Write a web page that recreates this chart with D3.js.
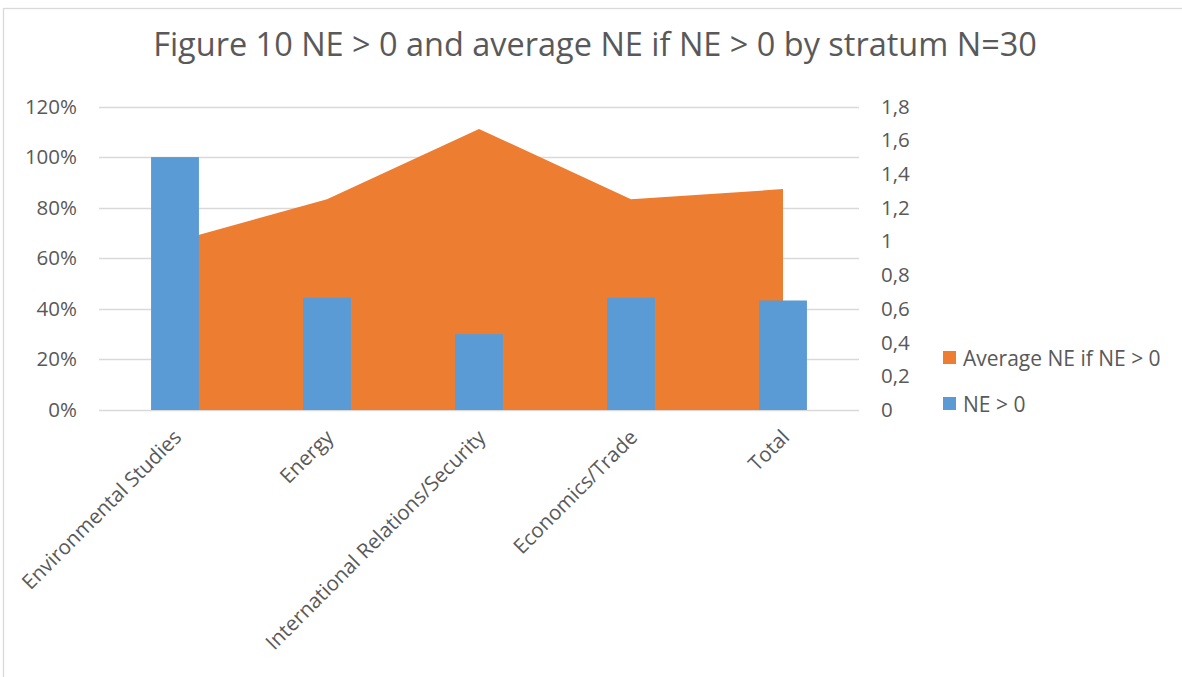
<!DOCTYPE html>
<html>
<head>
<meta charset="utf-8">
<script src="https://cdn.jsdelivr.net/npm/d3@7"></script>
<style>
  html, body { margin: 0; padding: 0; background: #fff; }
  svg { display: block; }
  text { font-family: "Open Sans", sans-serif; fill: #595959; }
</style>
</head>
<body>
<svg id="chart" width="1182" height="677"></svg>
<script>
const categories = ["Environmental Studies", "Energy", "International Relations/Security", "Economics/Trade", "Total"];
const shareNE = [1.00, 0.444, 0.30, 0.444, 0.433];          // NE > 0 (left axis, %)
const avgNE = [1.00, 1.25, 1.667, 1.25, 1.31];               // Average NE if NE > 0 (right axis)
const leftTicks = [0, 0.2, 0.4, 0.6, 0.8, 1.0, 1.2];
const rightTicks = [0, 0.2, 0.4, 0.6, 0.8, 1.0, 1.2, 1.4, 1.6, 1.8];
const titleText = "Figure 10 NE > 0 and average NE if NE > 0 by stratum N=30";
const legendItems = [
  { label: "Average NE if NE > 0", color: "#ED7D31" },
  { label: "NE > 0", color: "#5B9BD5" }
];

const svg = d3.select("#chart");
const W = 1182, H = 677;
const plot = { left: 99, right: 859, top: 106.5, bottom: 410 };

// outer border
svg.append("rect")
  .attr("x", 3.5).attr("y", 8.5)
  .attr("width", W + 10).attr("height", H + 10)
  .attr("fill", "none").attr("stroke", "#D9D9D9").attr("stroke-width", 1.3);

const x = d3.scaleBand().domain(categories).range([plot.left, plot.right]).padding(0);
const yL = d3.scaleLinear().domain([0, 1.2]).range([plot.bottom, plot.top]);
const yR = d3.scaleLinear().domain([0, 1.8]).range([plot.bottom, plot.top]);
const cx = c => x(c) + x.bandwidth() / 2;

// gridlines
svg.append("g").selectAll("line").data(leftTicks).join("line")
  .attr("x1", plot.left).attr("x2", plot.right)
  .attr("y1", d => Math.round(yL(d)) + 0.5).attr("y2", d => Math.round(yL(d)) + 0.5)
  .attr("stroke", "#D9D9D9").attr("stroke-width", 1.3);

// area
const area = d3.area()
  .x((d, i) => cx(categories[i]))
  .y0(yR(0))
  .y1(d => yR(d));
svg.append("path").datum(avgNE).attr("d", area).attr("fill", "#ED7D31");

// bars
const barW = x.bandwidth() * 0.315;
svg.append("g").selectAll("rect").data(shareNE).join("rect")
  .attr("x", (d, i) => cx(categories[i]) - barW / 2)
  .attr("width", barW)
  .attr("y", d => yL(d))
  .attr("height", d => yL(0) - yL(d))
  .attr("fill", "#5B9BD5");

// left axis
const leftAxis = d3.axisLeft(yL).tickValues(leftTicks).tickFormat(d3.format(".0%")).tickSize(0).tickPadding(0);
const gL = svg.append("g").attr("transform", "translate(77,0)").call(leftAxis);
gL.select(".domain").remove();
gL.selectAll("text").attr("font-size", 20.5).attr("fill", "#595959")
  .style("font-family", "'Open Sans', sans-serif");

// right axis
const fmtR = d => d3.format(".1~f")(d).replace(".", ",");
const rightAxis = d3.axisRight(yR).tickValues(rightTicks).tickFormat(fmtR).tickSize(0).tickPadding(0);
const gR = svg.append("g").attr("transform", "translate(881,0)").call(rightAxis);
gR.select(".domain").remove();
gR.selectAll("text").attr("font-size", 20.5).attr("fill", "#595959")
  .style("font-family", "'Open Sans', sans-serif");

// category labels
svg.append("g").selectAll("text").data(categories).join("text")
  .attr("transform", d => `translate(${cx(d) + 2},${433}) rotate(-45)`)
  .attr("text-anchor", "end")
  .attr("dominant-baseline", "central")
  .attr("font-size", 20.5)
  .text(d => d);

// title
const title = svg.append("text")
  .attr("x", 595).attr("y", 56)
  .attr("text-anchor", "middle")
  .attr("font-size", 28)
  .text(titleText);
const tl = title.node().getComputedTextLength();
title.attr("font-size", 28 * 884 / tl);

// legend
const lg = svg.append("g").selectAll("g").data(legendItems).join("g")
  .attr("transform", (d, i) => `translate(943,${351 + i * 46})`);
lg.append("rect").attr("width", 13).attr("height", 13).attr("fill", d => d.color);
lg.append("text").attr("x", 20).attr("y", 6.5)
  .attr("dominant-baseline", "central")
  .attr("font-size", 21)
  .text(d => d.label);
</script>
</body>
</html>
